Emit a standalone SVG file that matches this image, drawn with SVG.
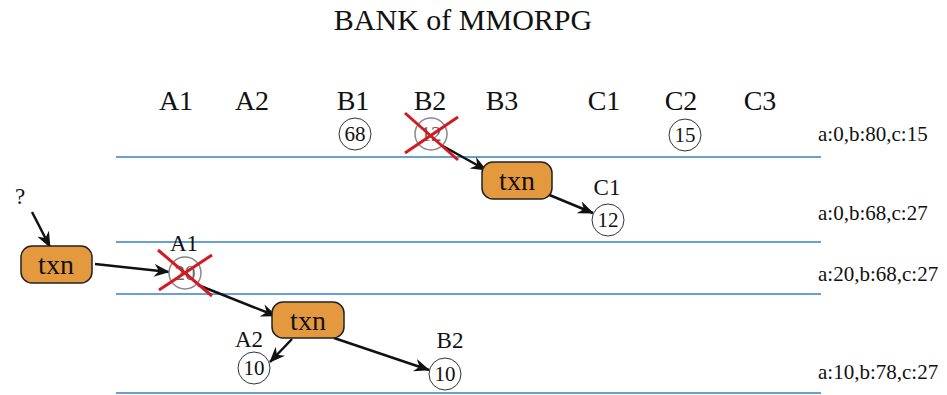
<svg xmlns="http://www.w3.org/2000/svg" width="947" height="395" viewBox="0 0 947 395" font-family="'Liberation Serif', 'DejaVu Serif', serif">
  <style>
    text { font-family: "Liberation Serif", "Times New Roman", "DejaVu Serif", serif; fill: #111; }
    .title { font-size: 30px; text-anchor: middle; }
    .col { font-size: 28px; text-anchor: middle; }
    .lbl { font-size: 23px; text-anchor: middle; }
    .num { font-size: 21px; text-anchor: middle; }
    .state { font-size: 21px; }
    .lane { stroke: #6a9fd2; stroke-width: 2; }
    .cell { fill: #fff; stroke: #333; stroke-width: 1; }
    .gone { fill: #fff; stroke: #888; stroke-width: 1.5; }
    .gone-num { fill: #666; }
    .cross { stroke: #d21a20; stroke-width: 3; }
    .txn rect { fill: #e5993f; stroke: #222; stroke-width: 1.5; }
    .txn text { font-size: 28px; text-anchor: middle; }
    .edge { stroke: #111; stroke-width: 2.5; fill: none; marker-end: url(#arrow); }
  </style>
  <defs>
    <marker id="arrow" viewBox="0 0 16 13" refX="15" refY="6.5" markerWidth="16" markerHeight="13" markerUnits="userSpaceOnUse" orient="auto">
      <path d="M0,0 L16,6.5 L0,13 L5,6.5 Z" fill="#111"/>
    </marker>
  </defs>

  <rect width="947" height="395" fill="#fff"/>

  <text class="title" x="463" y="30">BANK of MMORPG</text>

  <!-- account column headers -->
  <g id="headers">
    <text class="col" x="176" y="110">A1</text>
    <text class="col" x="252" y="110">A2</text>
    <text class="col" x="353" y="110">B1</text>
    <text class="col" x="430" y="110">B2</text>
    <text class="col" x="502" y="110">B3</text>
    <text class="col" x="604" y="110">C1</text>
    <text class="col" x="681" y="110">C2</text>
    <text class="col" x="760" y="110">C3</text>
  </g>

  <!-- state separators -->
  <g id="lanes">
    <line class="lane" x1="116" y1="157" x2="821" y2="157"/>
    <line class="lane" x1="116" y1="242" x2="821" y2="242"/>
    <line class="lane" x1="116" y1="294" x2="821" y2="294"/>
    <line class="lane" x1="116" y1="393" x2="821" y2="393"/>
  </g>

  <!-- totals per state -->
  <g id="totals">
    <text class="state" x="818" y="141">a:0,b:80,c:15</text>
    <text class="state" x="818" y="220">a:0,b:68,c:27</text>
    <text class="state" x="818" y="281">a:20,b:68,c:27</text>
    <text class="state" x="818" y="379">a:10,b:78,c:27</text>
  </g>

  <!-- connectors -->
  <g id="connectors">
    <line class="edge" x1="441" y1="145" x2="486" y2="170"/>
    <line class="edge" x1="547" y1="194" x2="593" y2="213"/>
    <line class="edge" x1="32" y1="212" x2="50" y2="247"/>
    <line class="edge" x1="95" y1="264" x2="169" y2="272"/>
    <line class="edge" x1="198" y1="285" x2="276" y2="316"/>
    <line class="edge" x1="292" y1="339" x2="270" y2="362"/>
    <line class="edge" x1="334" y1="338" x2="429" y2="370"/>
  </g>

  <g id="b1-68">
    <circle class="cell" cx="355" cy="134" r="16"/>
    <text class="num" x="355" y="141">68</text>
  </g>

  <g id="b2-12-spent">
    <circle class="gone" cx="431" cy="134" r="16"/>
    <text class="num gone-num" x="431" y="141">12</text>
    <line class="cross" x1="405" y1="113" x2="458" y2="160"/>
    <line class="cross" x1="405" y1="153" x2="458" y2="117"/>
  </g>

  <g id="c2-15">
    <circle class="cell" cx="685" cy="135" r="16"/>
    <text class="num" x="685" y="142">15</text>
  </g>

  <g id="txn-top" class="txn">
    <rect x="482" y="162" width="70" height="37" rx="11"/>
    <text x="517" y="190">txn</text>
  </g>

  <g id="c1-12">
    <text class="lbl" x="607" y="195">C1</text>
    <circle class="cell" cx="608" cy="220" r="16"/>
    <text class="num" x="608" y="227">12</text>
  </g>

  <g id="unknown">
    <text class="lbl" x="20" y="204">?</text>
  </g>

  <g id="txn-left" class="txn">
    <rect x="21" y="246" width="71" height="37" rx="11"/>
    <text x="56" y="274">txn</text>
  </g>

  <g id="a1-20-spent">
    <text class="lbl" x="184" y="251">A1</text>
    <circle class="gone" cx="185" cy="273" r="16"/>
    <text class="num gone-num" x="185" y="280">20</text>
    <line class="cross" x1="158" y1="250" x2="212" y2="296"/>
    <line class="cross" x1="159" y1="290" x2="212" y2="255"/>
  </g>

  <g id="txn-bottom" class="txn">
    <rect x="272" y="302" width="72" height="36" rx="11"/>
    <text x="308" y="330">txn</text>
  </g>

  <g id="a2-10">
    <text class="lbl" x="249" y="347">A2</text>
    <circle class="cell" cx="254" cy="368" r="16"/>
    <text class="num" x="254" y="375">10</text>
  </g>

  <g id="b2-10">
    <text class="lbl" x="450" y="348">B2</text>
    <circle class="cell" cx="445" cy="374" r="16"/>
    <text class="num" x="445" y="381">10</text>
  </g>
</svg>
